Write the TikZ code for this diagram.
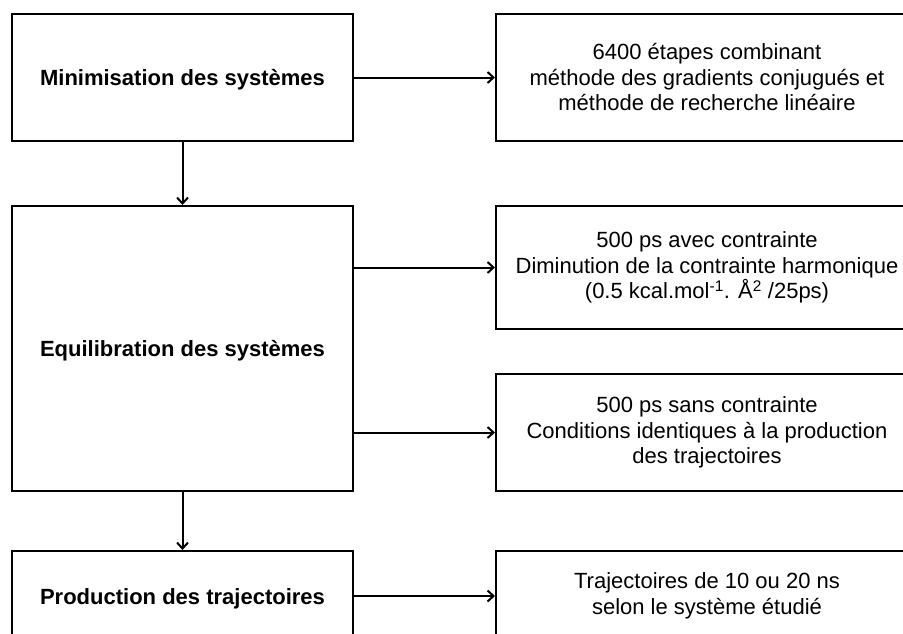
\documentclass[tikz,border=0pt]{standalone}
\usepackage{fontspec}
\setmainfont{Liberation Sans}
\usetikzlibrary{arrows.meta}
\newcommand{\lowered}[1]{\raisebox{-2.5pt}[\height][\depth]{#1}}
\begin{document}
\begin{tikzpicture}[x=1pt,y=-1pt,
  box/.style={draw=black, line width=2pt, rectangle, inner sep=0pt, align=center,
    font=\fontsize{22}{25.5}\selectfont},
  leftbox/.style={box, minimum width=341pt, font=\fontsize{22}{25.5}\selectfont\bfseries},
  rightbox/.style={box, minimum width=422pt},
  conn/.style={line width=2pt, -{Straight Barb[length=6pt,width=11pt,line width=2pt]}}
]
\useasboundingbox (0,0) rectangle (903,633);
\clip (0,0) rectangle (903,633);
\node[leftbox, minimum height=127pt] (b1) at (182.5,77.5) {\lowered{Minimisation des systèmes}};
\node[leftbox, minimum height=285pt] (b2) at (182.5,348.5) {\lowered{Equilibration des systèmes}};
\node[leftbox, minimum height=90pt] (b3) at (182.5,596) {\lowered{Production des trajectoires}};
\node[rightbox, minimum height=127pt] (r1) at (707,77.5) {6400 étapes combinant\\ méthode des gradients conjugués et\\ méthode de recherche linéaire};
\node[rightbox, minimum height=123pt] (r2) at (707,267.5) {500 ps avec contrainte\\ Diminution de la contrainte harmonique\\ (0.5 kcal.mol\textsuperscript{-1}. Å\textsuperscript{2} /25ps)};
\node[rightbox, minimum height=117pt] (r3) at (707,432.5) {500 ps sans contrainte\\ Conditions identiques à la production\\ des trajectoires};
\node[rightbox, minimum height=90pt] (r4) at (707,596) {Trajectoires de 10 ou 20 ns\\ selon le système étudié};
\draw[conn] (b1.east) -- (r1.west);
\draw[conn] (b2.east |- r2.west) -- (r2.west);
\draw[conn] (b2.east |- r3.west) -- (r3.west);
\draw[conn] (b3.east) -- (r4.west);
\draw[conn] (b1.south) -- (b2.north);
\draw[conn] (b2.south) -- (b3.north);
\end{tikzpicture}
\end{document}
